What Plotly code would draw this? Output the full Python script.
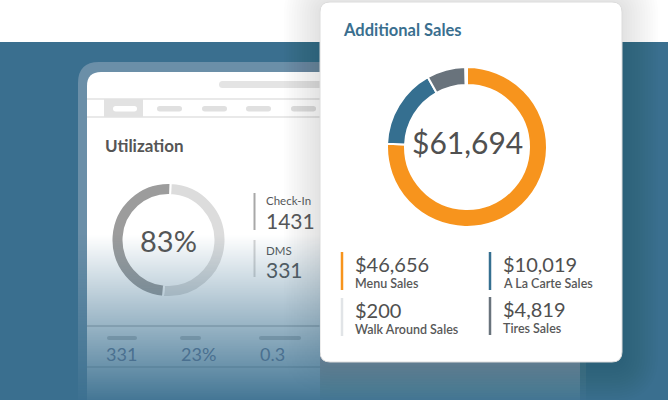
import plotly.graph_objects as go

# ---------------- data ----------------
sales_labels = ["Menu Sales", "A La Carte Sales", "Tires Sales", "Walk Around Sales"]
sales_values = [46656, 10019, 4819, 200]
sales_colors = ["#f7941d", "#356f90", "#69737c", "#e1e4e7"]
sales_title = "Additional Sales"

util_title = "Utilization"
util_pct = 83
util_segment_labels = ["Light", "Dark"]
util_segments = [51, 49]          # ring split as drawn
util_stat_labels = ["Check-In", "DMS"]
util_stat_values = [1431, 331]
bottom_stats = ["331", "23%", "0.3"]

W, H = 668, 400
BLUE = (58, 111, 143)
BLUE_HEX = "#3a6f8f"


def fade_alpha(y):
    if y <= 235:
        return 0.0
    return min(0.95, 0.95 * (y - 235) / 165.0)


def mix(hexcol, a):
    hexcol = hexcol.lstrip("#")
    r, g, b = (int(hexcol[i:i + 2], 16) for i in (0, 2, 4))
    r = round(r * (1 - a) + BLUE[0] * a)
    g = round(g * (1 - a) + BLUE[1] * a)
    b = round(b * (1 - a) + BLUE[2] * a)
    return f"rgb({r},{g},{b})"


def rrect(x0, y0, x1, y1, r):
    return (f"M{x0+r},{y0} L{x1-r},{y0} Q{x1},{y0} {x1},{y0+r} "
            f"L{x1},{y1-r} Q{x1},{y1} {x1-r},{y1} L{x0+r},{y1} "
            f"Q{x0},{y1} {x0},{y1-r} L{x0},{y0+r} Q{x0},{y0} {x0+r},{y0} Z")


shapes = []


def add_path(path, fill, layer="below", line=None):
    d = dict(type="path", path=path, xref="x", yref="y", fillcolor=fill,
             layer=layer, line=dict(width=0))
    if line:
        d["line"] = line
    shapes.append(d)


def add_rect(x0, y0, x1, y1, fill, layer="below"):
    shapes.append(dict(type="rect", xref="x", yref="y", x0=x0, y0=y0, x1=x1, y1=y1,
                       fillcolor=fill, line=dict(width=0), layer=layer))


def add_line(x0, y0, x1, y1, color, width, layer="below"):
    shapes.append(dict(type="line", xref="x", yref="y", x0=x0, y0=y0, x1=x1, y1=y1,
                       line=dict(color=color, width=width), layer=layer))


def add_fade(x0, x1, ystart, layer):
    # non-overlapping 1px strips, each with its own alpha
    for y in range(ystart, 400):
        A = fade_alpha(y + 0.5)
        if A <= 0:
            continue
        add_rect(x0, y, x1, y + 1, f"rgba(58,111,143,{A:.4f})", layer)


# background blue band
add_rect(0, 42, W, 402, BLUE_HEX)

# tablet frame and screen
add_path(rrect(78, 62, 586, 440, 21), "#6b8fa8")
add_path(rrect(87, 72, 580, 440, 14), "#ffffff")

# screen header details
add_path(rrect(219, 81, 340, 88, 3.5), "#e4e4e4")
add_line(87, 99, 340, 99, "#e2e2e2", 1.5)
add_line(87, 117, 340, 117, "#e2e2e2", 1.5)
add_rect(104, 99, 143, 117, "#e2e2e2")
add_path(rrect(113, 106, 137, 111.5, 2.75), "#ffffff")
for px0 in (157, 202, 246, 291):
    add_path(rrect(px0, 106, px0 + 25, 111.5, 2.75), "#e0e0e0")

# utilization stat bars
add_line(254.5, 193, 254.5, 230, "#a8a8a8", 2)
add_line(254.5, 240, 254.5, 277, "#d4d4d4", 2)

# bottom stats row
add_line(87, 326, 320, 326, "#c4c4c4", 1.5)
add_line(87, 367, 320, 367, "#c4c4c4", 1.5)
for bx0, bx1 in ((107, 137), (180, 201), (259, 301)):
    add_path(rrect(bx0, 336, bx1, 340, 2), "#c6c6c6")

# fade under the card region (bottom strip), drawn before the card
add_fade(320, 586, 350, "below")

# card shadow
CX0, CY0, CX1, CY1 = 320, 2, 622, 362
for k in range(14, 0, -1):
    e = k * 2.6
    add_path(rrect(CX0 - e, CY0 - e + 3, CX1 + e, CY1 + e + 3, 10 + e),
             "rgba(20,30,40,0.0075)")

# card
add_path(rrect(CX0, CY0, CX1, CY1, 10), "#ffffff",
         line=dict(color="#dcdcdc", width=1))

# legend bars
legend_pos = {  # label -> (x, y_top)
    "Menu Sales": (342, 252),
    "A La Carte Sales": (490, 252),
    "Walk Around Sales": (342, 298),
    "Tires Sales": (490, 297),
}
for lab, col in zip(sales_labels, sales_colors):
    lx, ly = legend_pos[lab]
    add_line(lx, ly, lx, ly + 38, col, 2.5)

# fade over the tablet to the left of the card (above the small donut)
add_fade(78, 320, 235, "above")


def dom(cx, cy, r):
    return dict(x=[(cx - r) / W, (cx + r) / W], y=[1 - (cy + r) / H, 1 - (cy - r) / H])


fig = go.Figure()

fig.add_trace(go.Pie(
    labels=util_segment_labels, values=util_segments, hole=45 / 57,
    sort=False, direction="clockwise", rotation=2,
    marker=dict(colors=["#dcdcdc", "#9c9c9c"], line=dict(color="#ffffff", width=2)),
    textinfo="none", hoverinfo="skip", showlegend=False,
    domain=dom(168.5, 240, 57),
))

fig.add_trace(go.Pie(
    labels=sales_labels, values=sales_values, hole=62 / 80,
    sort=False, direction="clockwise", rotation=0,
    marker=dict(colors=sales_colors, line=dict(color="#ffffff", width=2)),
    textinfo="none", hoverinfo="skip", showlegend=False,
    domain=dom(467, 147, 80),
))

FONT = "Lato, 'Open Sans', sans-serif"
TXT = "#505050"
ann = []


def text(x, y, s, size, color=TXT, weight=400, xanchor="left"):
    ann.append(dict(x=x, y=y, xref="x", yref="y", text=s, showarrow=False,
                    xanchor=xanchor, yanchor="middle", borderpad=0,
                    font=dict(family=FONT, size=size, color=color, weight=weight)))


total = sum(sales_values)
text(342, 30, sales_title, 16.5, "#3a6f8f", 700)
text(467, 142, f"${total:,}", 30, TXT, 400, "center")

for lab, val in zip(sales_labels, sales_values):
    lx, ly = legend_pos[lab]
    text(lx + 12, ly + 12, f"${val:,}", 20, TXT, 400)
    text(lx + 12, ly + 31.5, lab, 12.5, "#585858", 600)

text(104, 145, util_title, 17, "#555555", 700)
text(168.5, 240.5, f"{util_pct}%", 29, mix("#555555", fade_alpha(241)), 400, "center")

stat_y = [(200.5, 220), (250.5, 269)]
for (ly, vy), lab, val in zip(stat_y, util_stat_labels, util_stat_values):
    text(265, ly, lab, 11.5, mix("#555555", fade_alpha(ly) + 0.05), 400)
    text(264.5, vy, f"{val}", 21, mix("#555555", fade_alpha(vy) + 0.05), 400)

for bx, s in zip((105, 180, 259), bottom_stats):
    text(bx, 353.5, s, 18, "#4a7090", 400)

fig.update_layout(
    width=W, height=H, autosize=False,
    margin=dict(l=0, r=0, t=0, b=0, pad=0),
    paper_bgcolor="#ffffff", plot_bgcolor="#ffffff",
    xaxis=dict(range=[0, W], visible=False, fixedrange=True),
    yaxis=dict(range=[H, 0], visible=False, fixedrange=True),
    shapes=shapes, annotations=ann, showlegend=False,
)

fig.write_html("out.html", config={"displayModeBar": False})
